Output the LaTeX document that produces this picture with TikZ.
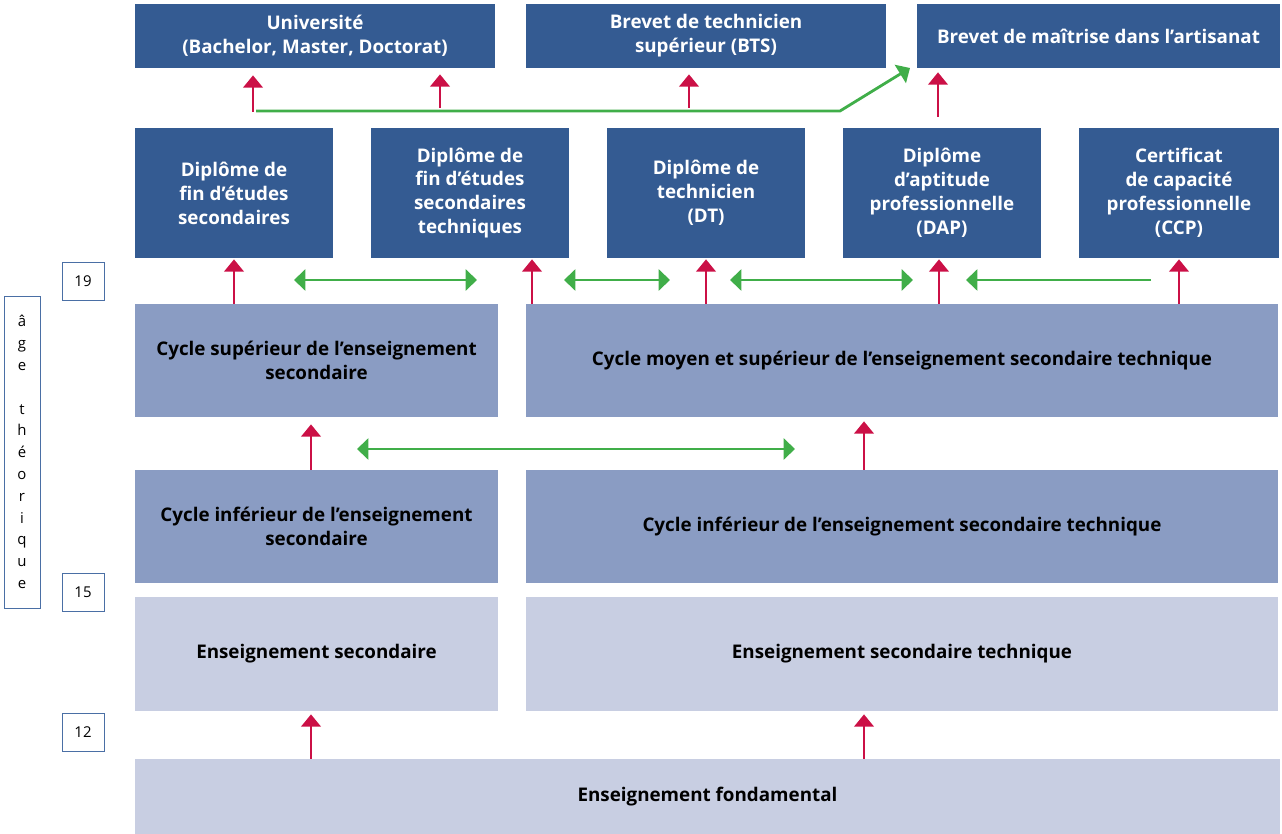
\documentclass[tikz,border=0pt]{standalone}
\usepackage{fontspec}
\setmainfont{Open Sans}
\usetikzlibrary{arrows.meta}
\definecolor{darkbox}{HTML}{345B92}
\definecolor{midbox}{HTML}{8A9CC3}
\definecolor{lightbox}{HTML}{C8CEE2}
\definecolor{agecol}{HTML}{4A6FA5}
\definecolor{upcol}{HTML}{CB1046}
\definecolor{passcol}{HTML}{40AE49}
\tikzstyle{boxtext}=[font=\bfseries\fontsize{10.7}{13.6}\selectfont,align=center,inner sep=0pt]
\tikzstyle{diploma}=[boxtext,fill=darkbox,text=white,minimum width=3.96cm,minimum height=2.6cm]
\tikzstyle{higher}=[boxtext,fill=darkbox,text=white,minimum width=7.2cm,minimum height=1.28cm]
\tikzstyle{cycle}=[boxtext,fill=midbox,text=black,minimum height=2.26cm]
\tikzstyle{basebox}=[boxtext,fill=lightbox,text=black]
\tikzstyle{agebox}=[draw=agecol,font=\fontsize{8.5}{10}\selectfont,inner sep=0pt,minimum width=0.84cm,minimum height=0.76cm]
\tikzstyle{uparrow}=[-{Triangle[width=11pt,length=7pt]},draw=upcol,line width=1.6pt]
\tikzstyle{passage}=[{Triangle[width=12pt,length=6.5pt]}-{Triangle[width=12pt,length=6.5pt]},draw=passcol,line width=1.6pt]
\tikzstyle{oneway}=[-{Triangle[width=12pt,length=6.5pt]},draw=passcol,line width=1.6pt]

\begin{document}
\begin{tikzpicture}[x=0.02cm,y=-0.02cm]
\useasboundingbox (0,0) rectangle (1282,834);
% higher studies
\node[higher] (uni) at (315,36) {Université\\(Bachelor, Master, Doctorat)};
\node[higher] (bts) at (706,36) {Brevet de technicien\\supérieur (BTS)};
\node[higher,minimum width=7.26cm] (bm) at (1098.5,36) {Brevet de maîtrise dans l’artisanat};
% diplomas
\node[diploma] (d1) at (234,193) {Diplôme de\\fin d’études\\secondaires};
\node[diploma] (d2) at (470,193) {Diplôme de\\fin d’études\\secondaires\\techniques};
\node[diploma] (d3) at (706,193) {Diplôme de\\technicien\\(DT)};
\node[diploma] (d4) at (942,193) {Diplôme\\d’aptitude\\professionnelle\\(DAP)};
\node[diploma,minimum width=4cm] (d5) at (1179,193) {Certificat\\de capacité\\professionnelle\\(CCP)};
% upper cycles
\node[cycle,minimum width=7.26cm] (cs) at (316.5,360.5) {Cycle supérieur de l’enseignement\\secondaire};
\node[cycle,minimum width=15.04cm] (cm) at (902,360.5) {Cycle moyen et supérieur de l’enseignement secondaire technique};
% lower cycles
\node[cycle,minimum width=7.26cm] (ci) at (316.5,526.5) {Cycle inférieur de l’enseignement\\secondaire};
\node[cycle,minimum width=15.04cm] (cit) at (902,526.5) {Cycle inférieur de l’enseignement secondaire technique};
% secondary
\node[basebox,minimum width=7.26cm,minimum height=2.28cm] (es) at (316.5,654) {Enseignement secondaire};
\node[basebox,minimum width=15.04cm,minimum height=2.28cm] (est) at (902,654) {Enseignement secondaire technique};
% fundamental
\node[basebox,minimum width=22.9cm,minimum height=1.5cm] (ef) at (707.5,796.5) {Enseignement fondamental};
% ages
\node[agebox] (a19) at (83,281) {19};
\node[agebox] (a15) at (83,592) {15};
\node[agebox] (a12) at (83,732.5) {12};
\node[draw=agecol,font=\fontsize{8.5}{12.4}\selectfont,align=center,inner sep=0pt,minimum width=0.72cm,minimum height=6.24cm] (axis) at (22,452)
  {â\\g\\e\\\mbox{}\\t\\h\\é\\o\\r\\i\\q\\u\\e};

% arrows to higher studies
\coordinate (u1) at (253,112);
\coordinate (u2) at (440,108);
\coordinate (u3) at (689,108);
\coordinate (u4) at (938,117);
\draw[uparrow] (u1) -- ([yshift=-7*0.02cm]u1 |- uni.south);
\draw[uparrow] (u2) -- ([yshift=-6*0.02cm]u2 |- uni.south);
\draw[uparrow] (u3) -- ([yshift=-6*0.02cm]u3 |- bts.south);
\draw[uparrow] (u4) -- ([yshift=-4*0.02cm]u4 |- bm.south);
\coordinate (g0) at (256,111);
\coordinate (gk) at (840,111);
\coordinate (g1) at (910,68);
\draw[oneway] (g0) -- (gk) -- (g1);

% arrows to diplomas
\coordinate (v2) at (532,304);
\draw[uparrow] (d1.south |- cs.north) -- ([yshift=-1*0.02cm]d1.south);
\draw[uparrow] (v2) -- ([yshift=-1*0.02cm]v2 |- d2.south);
\draw[uparrow] (d3.south |- cm.north) -- ([yshift=-1*0.02cm]d3.south);
\draw[uparrow] ([xshift=-3*0.02cm]d4.south |- cm.north) -- ([xshift=-3*0.02cm,yshift=-1*0.02cm]d4.south);
\draw[uparrow] (d5.south |- cm.north) -- ([yshift=-1*0.02cm]d5.south);
\coordinate (p1a) at (294,280);
\coordinate (p1b) at (477,280);
\coordinate (p2a) at (564,280);
\coordinate (p2b) at (670,280);
\coordinate (p3a) at (730,280);
\coordinate (p3b) at (913,280);
\coordinate (p4a) at (1151,280);
\coordinate (p4b) at (966,280);
\draw[passage] (p1a) -- (p1b);
\draw[passage] (p2a) -- (p2b);
\draw[passage] (p3a) -- (p3b);
\draw[oneway] (p4a) -- (p4b);

% lower to upper cycles
\coordinate (w1) at (311,470);
\coordinate (w2) at (864,470);
\draw[uparrow] (w1) -- ([yshift=-7*0.02cm]w1 |- cs.south);
\draw[uparrow] (w2) -- ([yshift=-4*0.02cm]w2 |- cm.south);
\coordinate (q1) at (357,449);
\coordinate (q2) at (795,449);
\draw[passage] (q1) -- (q2);

% fundamental to secondary
\draw[uparrow] (w1 |- ef.north) -- ([yshift=-3*0.02cm]w1 |- es.south);
\draw[uparrow] (w2 |- ef.north) -- ([yshift=-3*0.02cm]w2 |- est.south);
\end{tikzpicture}
\end{document}
